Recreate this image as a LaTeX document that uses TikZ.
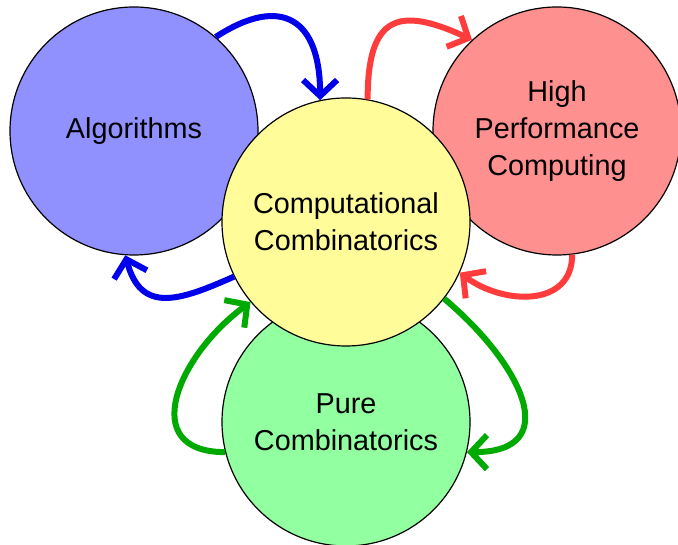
\documentclass[tikz,border=0pt]{standalone}
\usepackage{fontspec}
\setmainfont{Liberation Sans}
\usetikzlibrary{arrows.meta}
\definecolor{algfill}{RGB}{144,144,255}
\definecolor{hpcfill}{RGB}{255,144,144}
\definecolor{compfill}{RGB}{255,252,153}
\definecolor{purefill}{RGB}{146,255,160}
\definecolor{linkblue}{RGB}{0,0,235}
\definecolor{linkred}{RGB}{255,60,60}
\definecolor{linkgreen}{RGB}{0,170,0}
\begin{document}
\begin{tikzpicture}[x=1pt,y=1pt,every node/.style={font=\fontsize{28.8}{37}\selectfont,align=center},
  topic/.style={circle,draw,line width=1.2pt,minimum size=248pt,inner sep=0pt},
  link/.style={line width=6pt,-{Straight Barb[length=16pt,width=34pt]}}]
\useasboundingbox (0,0) rectangle (678,545);
\node[topic,fill=algfill] (alg) at (134,414) {Algorithms};
\node[topic,fill=hpcfill] (hpc) at (557,414) {High\\Performance\\Computing};
\node[topic,fill=purefill] (pure) at (346,123) {Pure\\Combinatorics};
\node[topic,fill=compfill] (comp) at (346,323) {Computational\\Combinatorics};
\draw[link,linkblue] (alg.49) to[out=33,in=90,looseness=1.67] (comp.102);
\draw[link,linkblue] (comp.206) to[out=204,in=-75,looseness=1.4] (alg.-94);
\draw[link,linkred] (comp.80) to[out=90,in=155,looseness=1.76] (hpc.133);
\draw[link,linkred] (hpc.-83) to[out=-90,in=-37,looseness=1.2] (comp.-24);
\draw[link,linkgreen] (pure.194) to[out=180,in=-144,looseness=1.5] (comp.220);
\draw[link,linkgreen] (comp.-38) to[out=-40,in=0,looseness=1.64] (pure.-14);
\end{tikzpicture}
\end{document}
